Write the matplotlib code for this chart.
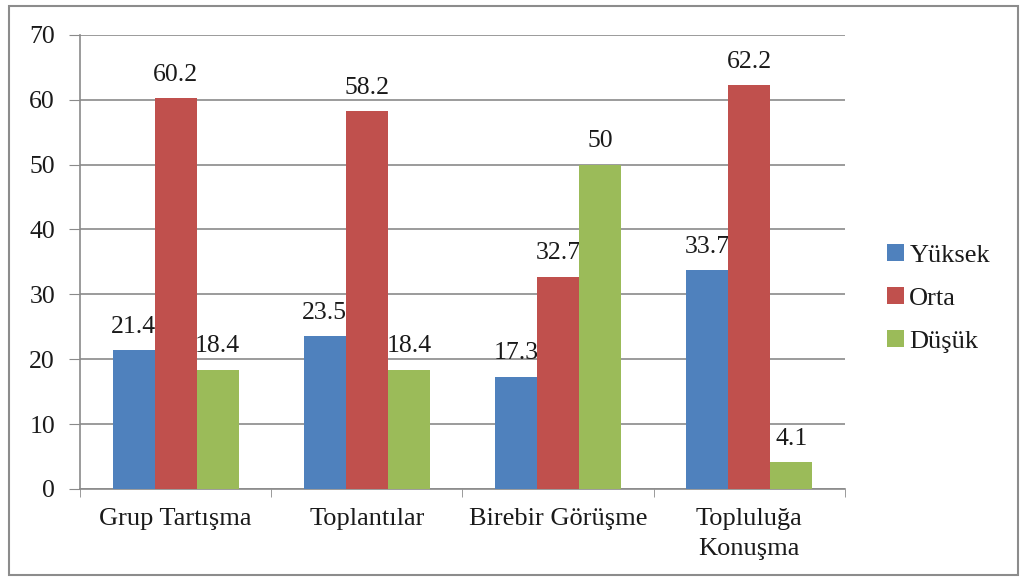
import numpy as np
import matplotlib.pyplot as plt
from matplotlib.patches import Rectangle

categories = ["Grup Tartışma", "Toplantılar", "Birebir Görüşme", "Topluluğa\nKonuşma"]
series_names = ["Yüksek", "Orta", "Düşük"]
yuksek = [21.4, 23.5, 17.3, 33.7]
orta = [60.2, 58.2, 32.7, 62.2]
dusuk = [18.4, 18.4, 50, 4.1]
colors = ["#4F81BD", "#C0504D", "#9BBB59"]

plt.rcParams['font.family'] = ['Liberation Serif', 'DejaVu Serif']
plt.rcParams['text.color'] = '#1a1a1a'

fig = plt.figure(figsize=(10.21, 5.80), dpi=100)
ax = fig.add_axes([0.0784, 0.157, 0.749, 0.783])

# outer border of the chart area
fig.patches.append(Rectangle((0.009, 0.008), 0.988, 0.982, transform=fig.transFigure,
                             fill=False, edgecolor='#8c8c8c', linewidth=1.5))

x = np.arange(len(categories))
w = 0.22
for i, (vals, name) in enumerate(zip([yuksek, orta, dusuk], series_names)):
    pos = x + (i - 1) * w
    ax.bar(pos, vals, width=w, color=colors[i], label=name, zorder=3)
    for p, v in zip(pos, vals):
        ax.annotate(f"{v:g}", (p, v), xytext=(0, 9), textcoords='offset points',
                    ha='center', va='bottom', fontsize=18.5, color='#1a1a1a')

ax.set_xlim(-0.5, len(categories) - 0.5)
ax.set_ylim(0, 70)
ax.set_yticks(range(0, 71, 10))
ax.yaxis.grid(True, color='#8a8a8a', linewidth=1.2, zorder=0)
ax.set_xticks(x)
ax.set_xticklabels(categories, fontsize=19, linespacing=1.45)
ax.set_xticks(np.arange(len(categories) + 1) - 0.5, minor=True)
ax.tick_params(axis='x', which='major', length=0, pad=14, labelcolor='#1a1a1a')
ax.tick_params(axis='x', which='minor', length=6, color='#8a8a8a')
ax.tick_params(axis='y', length=8, color='#8a8a8a', labelsize=18.5, pad=10,
               labelcolor='#1a1a1a')
for s in ['top', 'right']:
    ax.spines[s].set_visible(False)
for s in ['left', 'bottom']:
    ax.spines[s].set_color('#8a8a8a')
    ax.spines[s].set_linewidth(1.2)

leg = ax.legend(loc='center left', bbox_to_anchor=(1.024, 0.42), frameon=False,
                fontsize=19, handlelength=0.65, handleheight=0.65, handletextpad=0.2,
                labelspacing=0.75)

fig.savefig("out.png", dpi=100)
